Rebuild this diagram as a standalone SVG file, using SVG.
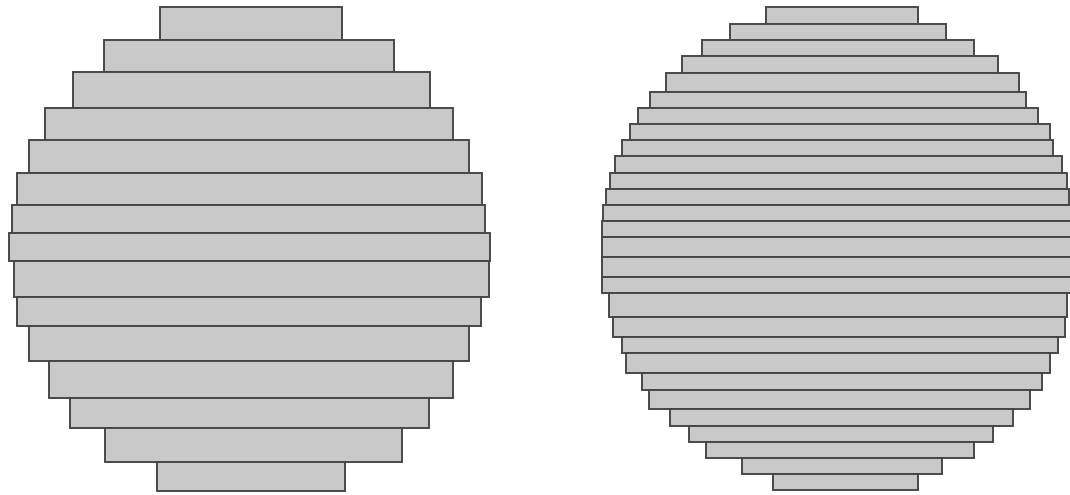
<svg xmlns="http://www.w3.org/2000/svg" width="1070" height="495" viewBox="0 0 1070 495">
<style>
.b{fill:#c9c9c9;stroke:#454545;stroke-width:1.9}
</style>
<rect width="1070" height="495" fill="#ffffff"/>
<g id="coarse">
<rect class="b" x="160" y="7" width="182" height="33"/>
<rect class="b" x="104" y="40" width="290" height="32"/>
<rect class="b" x="73" y="72" width="357" height="36"/>
<rect class="b" x="45" y="108" width="408" height="32"/>
<rect class="b" x="29" y="140" width="440" height="33"/>
<rect class="b" x="17" y="173" width="465" height="32"/>
<rect class="b" x="12" y="205" width="473" height="28"/>
<rect class="b" x="9" y="233" width="481" height="28"/>
<rect class="b" x="14" y="261" width="475" height="36"/>
<rect class="b" x="17" y="297" width="464" height="29"/>
<rect class="b" x="29" y="326" width="440" height="35"/>
<rect class="b" x="49" y="361" width="404" height="37"/>
<rect class="b" x="70" y="398" width="359" height="30"/>
<rect class="b" x="105" y="428" width="297" height="34"/>
<rect class="b" x="157" y="462" width="188" height="29"/>
</g>
<g id="fine">
<rect class="b" x="766" y="7" width="152" height="17"/>
<rect class="b" x="730" y="24" width="216" height="16"/>
<rect class="b" x="702" y="40" width="272" height="16"/>
<rect class="b" x="682" y="56" width="316" height="17"/>
<rect class="b" x="666" y="73" width="353" height="19"/>
<rect class="b" x="650" y="92" width="376" height="16"/>
<rect class="b" x="638" y="108" width="400" height="16"/>
<rect class="b" x="630" y="124" width="420" height="16"/>
<rect class="b" x="622" y="140" width="431" height="16"/>
<rect class="b" x="615" y="156" width="447" height="17"/>
<rect class="b" x="610" y="173" width="457" height="16"/>
<rect class="b" x="606" y="189" width="463" height="16"/>
<rect class="b" x="603" y="205" width="470" height="16"/>
<rect class="b" x="602" y="221" width="471" height="16"/>
<rect class="b" x="602" y="237" width="471" height="20"/>
<rect class="b" x="602" y="257" width="471" height="20"/>
<rect class="b" x="602" y="277" width="471" height="16"/>
<rect class="b" x="609" y="293" width="458" height="24"/>
<rect class="b" x="613" y="317" width="452" height="20"/>
<rect class="b" x="622" y="337" width="436" height="16"/>
<rect class="b" x="626" y="353" width="424" height="20"/>
<rect class="b" x="642" y="373" width="400" height="17"/>
<rect class="b" x="649" y="390" width="381" height="19"/>
<rect class="b" x="670" y="409" width="343" height="17"/>
<rect class="b" x="689" y="426" width="304" height="16"/>
<rect class="b" x="706" y="442" width="268" height="16"/>
<rect class="b" x="742" y="458" width="200" height="16"/>
<rect class="b" x="773" y="474" width="145" height="16"/>
</g>
</svg>
